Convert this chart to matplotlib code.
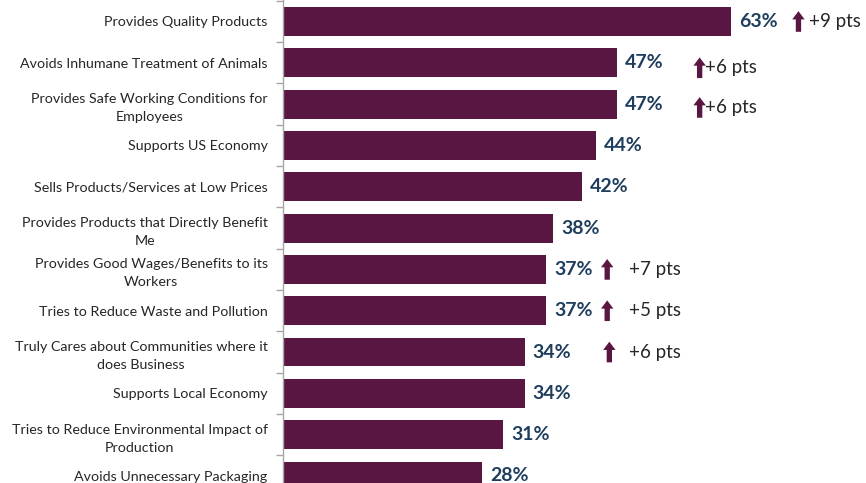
import matplotlib
matplotlib.use("Agg")
import matplotlib.pyplot as plt
from matplotlib.patches import FancyArrow
import numpy as np

categories = [
    "Provides Quality Products",
    "Avoids Inhumane Treatment of Animals",
    "Provides Safe Working Conditions for\nEmployees",
    "Supports US Economy",
    "Sells Products/Services at Low Prices",
    "Provides Products that Directly Benefit\nMe",
    "Provides Good Wages/Benefits to its\nWorkers",
    "Tries to Reduce Waste and Pollution",
    "Truly Cares about Communities where it\ndoes Business",
    "Supports Local Economy",
    "Tries to Reduce Environmental Impact of\nProduction",
    "Avoids Unnecessary Packaging",
]
values = [63, 47, 47, 44, 42, 38, 37, 37, 34, 34, 31, 28]
# point changes shown next to selected bars (index -> pts)
change_rows = [0, 1, 2, 6, 7, 8]
change_pts = [9, 6, 6, 7, 5, 6]

bar_color = "#5A1642"
value_color = "#1F3E5E"
text_color = "#262626"

plt.rcParams["font.family"] = ["Lato", "DejaVu Sans"]

fig = plt.figure(figsize=(8.66, 4.83), dpi=100)
ax = fig.add_axes([283 / 866, 0, 1 - 283 / 866, 1])

y = np.arange(len(categories))
ax.barh(y, values, height=0.70, color=bar_color, edgecolor="none")

ax.set_yticks(y)
ax.set_yticklabels(categories, fontsize=10.3, color=text_color,
                   ha="right", multialignment="center", linespacing=1.6)
ax.tick_params(axis="y", which="major", length=0, pad=11)
ax.set_yticks(np.arange(len(categories) + 1) - 0.5, minor=True)
ax.tick_params(axis="y", which="minor", length=5, color="#A6A6A6", width=1)
ax.set_xticks([])

ax.set_xlim(0, 82)
ax.set_ylim(11.17, -0.52)

for side in ["top", "right", "bottom"]:
    ax.spines[side].set_visible(False)
ax.spines["left"].set_color("#A6A6A6")
ax.spines["left"].set_linewidth(1)

# value labels
for yi, v in zip(y, values):
    ax.text(v + 1.1, yi, f"{v}%", va="center", ha="left", fontsize=14,
            fontweight="bold", color=value_color)

# change indicators: arrow x position and text x position (data units), y offset
arrow_layout = {
    0: (72.5, 74.0, 0.0),
    1: (58.6, 59.4, 0.12),
    2: (58.6, 59.4, 0.08),
    6: (45.6, 48.6, 0.0),
    7: (45.6, 48.6, 0.0),
    8: (45.9, 48.7, 0.0),
}
for row, pts in zip(change_rows, change_pts):
    ax_x, tx, dy = arrow_layout[row]
    yc = row + dy
    arr = FancyArrow(ax_x, yc + 0.25, 0, -0.5, width=0.75, head_width=1.75,
                     head_length=0.2, length_includes_head=True,
                     color=bar_color, linewidth=0)
    ax.add_patch(arr)
    ax.text(tx, yc, f"+{pts} pts", va="center", ha="left", fontsize=13.5,
            color=text_color)

fig.savefig("out.png", dpi=100)
